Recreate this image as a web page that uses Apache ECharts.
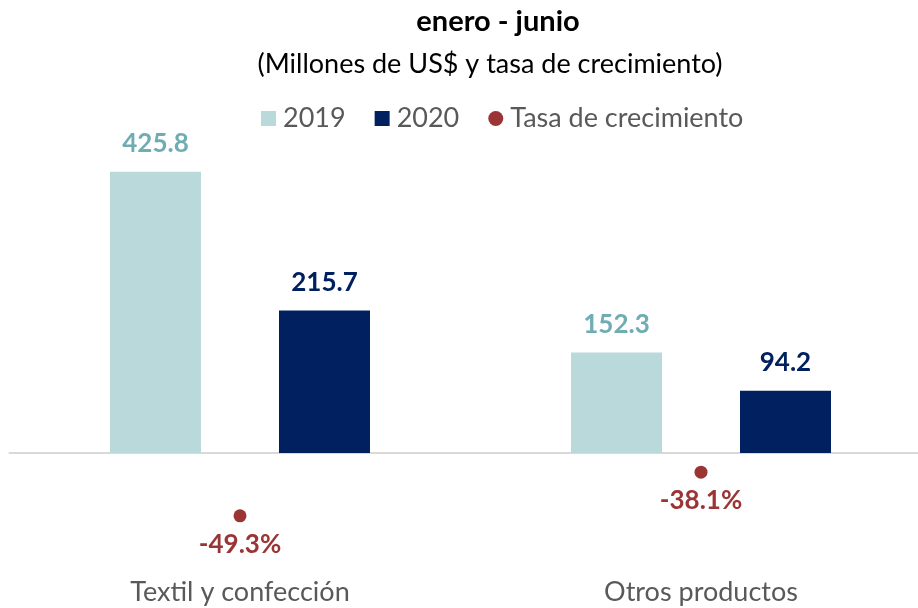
<!DOCTYPE html>
<html>
<head>
<meta charset="utf-8">
<script src="https://cdn.jsdelivr.net/npm/echarts@6/dist/echarts.min.js"></script>
<style>
html,body{margin:0;padding:0;background:#fff;}
#chart{width:918px;height:608px;}
</style>
</head>
<body>
<div id="chart"></div>
<script>
const categories = ['Textil y confección', 'Otros productos'];
const values2019 = [425.8, 152.3];
const values2020 = [215.7, 94.2];
const growthRate = [-49.3, -38.1];
const seriesNames = ['2019', '2020', 'Tasa de crecimiento'];
const titleText = 'enero - junio';
const subtitleText = '(Millones de US$ y tasa de crecimiento)';

const FONT = 'Lato';
const chart = echarts.init(document.getElementById('chart'), null, {renderer: 'canvas'});

const option = {
  backgroundColor: '#ffffff',
  animation: false,
  graphic: [
    {type: 'text', x: 498, y: 22, style: {text: titleText, fill: '#000000', font: 'bold 29px ' + FONT, align: 'center', verticalAlign: 'middle'}},
    {type: 'text', x: 490, y: 64, style: {text: subtitleText, fill: '#000000', font: '27px ' + FONT, align: 'center', verticalAlign: 'middle'}}
  ],
  legend: {
    left: 256,
    top: 100,
    itemWidth: 15,
    itemHeight: 15,
    itemGap: 29,
    textStyle: {fontFamily: FONT, fontSize: 27, color: '#595959', padding: [0, 0, 0, 2]},
    data: [
      {name: seriesNames[0], icon: 'rect'},
      {name: seriesNames[1], icon: 'rect'},
      {name: seriesNames[2], icon: 'circle'}
    ]
  },
  grid: {left: 9.5, width: 922, top: 136, bottom: 36, containLabel: false, outerBoundsMode: 'none'},
  xAxis: [
    {
      type: 'category', data: categories, position: 'bottom',
      axisLine: {show: true, onZero: true, lineStyle: {color: '#d9d9d9', width: 2}},
      axisTick: {show: false}, axisLabel: {show: false}, splitLine: {show: false}
    },
    {
      type: 'category', data: categories, position: 'bottom',
      axisLine: {show: false, onZero: false}, axisTick: {show: false}, splitLine: {show: false},
      axisLabel: {show: true, margin: 7, fontFamily: FONT, fontSize: 27, color: '#595959'}
    }
  ],
  yAxis: [
    {type: 'value', min: -180, max: 480, show: false, splitLine: {show: false}},
    {type: 'value', min: -63.7, max: 48.1, show: false, splitLine: {show: false}}
  ],
  series: [
    {
      name: seriesNames[0], type: 'bar', data: values2019, xAxisIndex: 0, yAxisIndex: 0,
      barWidth: 91, barGap: '85.7%',
      itemStyle: {color: '#b9d9db'},
      label: {show: true, position: 'top', distance: 15, fontFamily: FONT, fontWeight: 'bold', fontSize: 26, color: '#6fadb2',
        formatter: p => p.value.toFixed(1)}
    },
    {
      name: seriesNames[1], type: 'bar', data: values2020, xAxisIndex: 0, yAxisIndex: 0,
      barWidth: 91, barGap: '85.7%',
      itemStyle: {color: '#002060'},
      label: {show: true, position: 'top', distance: 15, fontFamily: FONT, fontWeight: 'bold', fontSize: 26, color: '#002060',
        formatter: p => p.value.toFixed(1)}
    },
    {
      name: seriesNames[2], type: 'scatter', data: growthRate, xAxisIndex: 0, yAxisIndex: 1,
      symbol: 'circle', symbolSize: 13,
      itemStyle: {color: '#9b3535', opacity: 1},
      label: {show: true, position: 'bottom', distance: 9, fontFamily: FONT, fontWeight: 'bold', fontSize: 26, color: '#9b3535',
        formatter: p => p.value.toFixed(1) + '%'}
    }
  ]
};
chart.setOption(option);
</script>
</body>
</html>
